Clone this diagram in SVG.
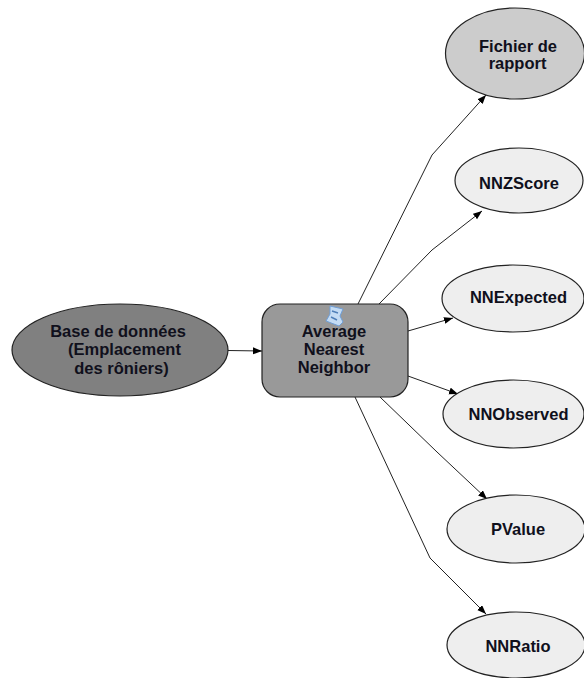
<svg xmlns="http://www.w3.org/2000/svg" width="584" height="678" viewBox="0 0 584 678">
<defs>
<marker id="arrow" markerUnits="userSpaceOnUse" markerWidth="10" markerHeight="8" refX="9" refY="3.500" orient="auto"><path d="M0,0 L9,3.500 L0,7 Z" fill="#000"/></marker>
</defs>
<style>
.n{stroke:#222;stroke-width:1.2}
.c{fill:none;stroke:#222;stroke-width:1;marker-end:url(#arrow)}
text{font-family:"Liberation Sans",Arial,sans-serif;font-size:16.5px;font-weight:bold;fill:#10101c;text-anchor:middle}
</style>
<rect width="584" height="678" fill="#fff"/>
<g id="connectors">
<path class="c" d="M228,350.500 L262,351"/>
<path class="c" d="M358,304 L432,155 L486,95"/>
<path class="c" d="M379,304 L432,250 L482,211"/>
<path class="c" d="M408,331 L453,318"/>
<path class="c" d="M408,376 L458,394"/>
<path class="c" d="M380,397 L437,452 L487,499"/>
<path class="c" d="M355,397 L430,558 L486,614"/>
</g>
<g id="base"><ellipse class="n" cx="120" cy="350" rx="108" ry="46" fill="#808080"/>
<text x="118" y="337">Base de données</text><text x="124.500" y="355">(Emplacement</text><text x="121.500" y="374">des rôniers)</text></g>
<g id="average"><rect class="n" x="262" y="304" width="146" height="93" rx="18" fill="#999"/>
<path d="M330,306 L343,309 L340,316 L343,322 L339,326 L326,321 L330,314 Z" fill="#c4dcf4" stroke="#6f9fd8" stroke-width="1"/>
<path d="M332,311 L338,313 M331,317 L337,320" stroke="#4f7fb8" stroke-width="1.500" fill="none"/>
<text x="334" y="337">Average</text><text x="334" y="355">Nearest</text><text x="334" y="373">Neighbor</text></g>
<g id="fichier"><ellipse class="n" cx="515" cy="53.500" rx="69.500" ry="45.500" fill="#ccc"/>
<text x="518" y="52">Fichier de</text><text x="517.500" y="69">rapport</text></g>
<g id="nnzscore"><ellipse class="n" cx="519" cy="180.500" rx="64" ry="32.500" fill="#eee"/>
<text x="519" y="189">NNZScore</text></g>
<g id="nnexpected"><ellipse class="n" cx="513" cy="298.500" rx="71" ry="33.500" fill="#eee"/>
<text x="518.500" y="303">NNExpected</text></g>
<g id="nnobserved"><ellipse class="n" cx="513.500" cy="414" rx="70.500" ry="34" fill="#eee"/>
<text x="518.500" y="420">NNObserved</text></g>
<g id="pvalue"><ellipse class="n" cx="516" cy="529" rx="69" ry="34" fill="#eee"/>
<text x="518" y="535">PValue</text></g>
<g id="nnratio"><ellipse class="n" cx="516" cy="645" rx="69" ry="33" fill="#eee"/>
<text x="518" y="652">NNRatio</text></g>
</svg>
